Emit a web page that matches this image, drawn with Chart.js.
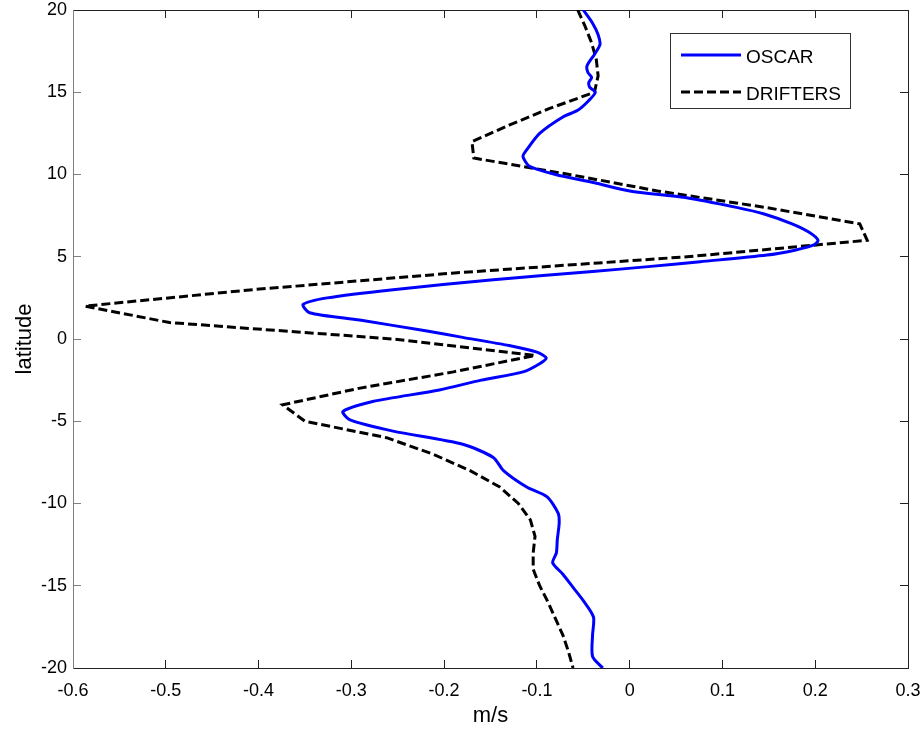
<!DOCTYPE html>
<html>
<head>
<meta charset="utf-8">
<script src="https://cdn.jsdelivr.net/npm/chart.js@4/dist/chart.umd.min.js"></script>
<style>
	html, body { margin: 0; padding: 0; background: #fff; }
	#wrap { width: 923px; height: 730px; }
</style>
</head>
<body>
<div id="wrap"><canvas id="chart" width="923" height="730"></canvas></div>
<script>
const seriesNames = ['OSCAR', 'DRIFTERS'];

// OSCAR
const oscarLat = [20, 19.2, 18.5, 17.9, 17.3, 16.6, 16.2, 15.9, 15.6, 15.3, 15, 14.5, 13.9, 13.5, 12.5, 11.5, 11.1, 10.5, 10, 9.5,
	9, 8.6, 8, 7.6, 7, 6.5, 6, 5.7, 5.4, 5.1, 4.7, 4.4, 4.1, 3.6, 3, 2.5, 2.1, 1.6, 1.15, 0.5,
	0.1, -0.4, -0.8, -1.15, -1.5, -2, -2.5, -3.1, -3.8, -4.4, -4.9, -5.6, -6.4, -7.2, -8, -9, -9.6, -10.6, -11.2, -12.2,
	-13, -13.6, -14.3, -15.1, -15.9, -16.9, -18, -19.3, -20];
const oscarVel = [-0.050, -0.040, -0.034, -0.032, -0.038, -0.046, -0.045, -0.041, -0.044, -0.043, -0.037, -0.044, -0.056, -0.072, -0.097, -0.111, -0.115, -0.108, -0.080, -0.038,
	0.000, 0.060, 0.115, 0.145, 0.175, 0.193, 0.203, 0.198, 0.178, 0.148, 0.076, 0.020, -0.040, -0.147, -0.255, -0.326, -0.352, -0.345, -0.291, -0.220,
	-0.180, -0.130, -0.100, -0.090, -0.097, -0.115, -0.160, -0.205, -0.277, -0.309, -0.302, -0.255, -0.180, -0.147, -0.136, -0.111, -0.089, -0.077, -0.076, -0.078,
	-0.079, -0.083, -0.072, -0.061, -0.050, -0.039, -0.040, -0.040, -0.029];

// DRIFTERS, one value per degree
const driftLat = [20, 19, 18, 17, 16, 15, 14, 13, 12, 11, 10, 9, 8, 7, 6, 5, 4, 3, 2, 1,
	0, -1, -2, -3, -4, -5, -6, -7, -8, -9, -10, -11, -12, -13, -14, -15, -16, -17, -18, -19, -20];
const driftVel = [-0.056, -0.048, -0.041, -0.036, -0.034, -0.038, -0.087, -0.130, -0.170, -0.168, -0.065, 0.030, 0.146, 0.248, 0.256, 0.062, -0.192, -0.406, -0.587, -0.496,
	-0.255, -0.102, -0.190, -0.292, -0.374, -0.350, -0.262, -0.212, -0.172, -0.140, -0.120, -0.107, -0.102, -0.104, -0.104, -0.097, -0.088, -0.080, -0.072, -0.066, -0.061];

const xTickLabels = ['-0.6', '-0.5', '-0.4', '-0.3', '-0.2', '-0.1', '0', '0.1', '0.2', '0.3'];
const yTickLabels = ['-20', '-15', '-10', '-5', '0', '5', '10', '15', '20'];

const toPoints = (lat, vel) => lat.map((y, i) => ({ x: vel[i], y: y }));

const FONT = 'Liberation Sans, Arial, Helvetica, sans-serif';

// fixed axis sizes, no extra room for overhanging labels
const fixSize = (size) => (s) => {
	if (s.isHorizontal()) s.height = size;
	else s.width = size;
	s.paddingLeft = 0;
	s.paddingRight = 0;
	s.paddingTop = 0;
	s.paddingBottom = 0;
};

// legend box in the top right corner
const boxLegend = {
	id: 'boxLegend',
	afterDatasetsDraw(chart) {
		const ctx = chart.ctx;
		const x0 = 670.5, y0 = 33.5, w = 180, h = 75;
		ctx.save();
		ctx.fillStyle = '#fff';
		ctx.fillRect(x0, y0, w, h);
		ctx.strokeStyle = '#333';
		ctx.lineWidth = 1;
		ctx.strokeRect(x0, y0, w, h);
		ctx.font = '19px ' + FONT;
		ctx.textBaseline = 'middle';
		ctx.fillStyle = '#000';
		chart.data.datasets.forEach((ds, i) => {
			const y = 55 + i * 37;
			ctx.beginPath();
			ctx.strokeStyle = ds.borderColor;
			ctx.lineWidth = ds.borderWidth;
			ctx.setLineDash(ds.borderDash || []);
			ctx.moveTo(681, y);
			ctx.lineTo(741, y);
			ctx.stroke();
			ctx.setLineDash([]);
			ctx.fillText(ds.label, 746, y + 3);
		});
		ctx.restore();
	},
};

new Chart(document.getElementById('chart'), {
	type: 'scatter',
	data: {
		datasets: [
			{
				label: seriesNames[0],
				data: toPoints(oscarLat, oscarVel),
				showLine: true,
				borderColor: '#0000ff',
				borderWidth: 3,
				pointRadius: 0,
				tension: 0.25,
			},
			{
				label: seriesNames[1],
				data: toPoints(driftLat, driftVel),
				showLine: true,
				borderColor: '#000000',
				borderWidth: 3,
				borderDash: [9, 4],
				pointRadius: 0,
				tension: 0,
			},
		],
	},
	options: {
		responsive: false,
		animation: false,
		layout: { padding: 0 },
		plugins: {
			legend: { display: false },
			tooltip: { enabled: false },
		},
		scales: {
			x: {
				position: 'bottom',
				min: -0.6,
				max: 0.3,
				afterFit: fixSize(62),
				ticks: {
					stepSize: 0.1,
					maxRotation: 0,
					autoSkip: false,
					padding: 20,
					color: '#000',
					font: { family: FONT, size: 18 },
					callback: (v, i) => xTickLabels[i],
				},
				grid: { drawOnChartArea: false, tickLength: -8, color: '#222' },
				border: { color: '#222', width: 1 },
				title: {
					display: true,
					text: 'm/s',
					color: '#000',
					font: { family: FONT, size: 22 },
					padding: { top: 0, bottom: 1 },
				},
			},
			x2: {
				position: 'top',
				min: -0.6,
				max: 0.3,
				afterFit: fixSize(10),
				ticks: { display: false, stepSize: 0.1 },
				grid: { drawOnChartArea: false, tickLength: -8, color: '#222' },
				border: { color: '#222', width: 1 },
			},
			y: {
				position: 'left',
				min: -20,
				max: 20,
				afterFit: fixSize(73),
				ticks: {
					stepSize: 5,
					padding: 14,
					color: '#000',
					font: { family: FONT, size: 18 },
					callback: (v, i) => yTickLabels[i],
				},
				grid: { drawOnChartArea: false, tickLength: -8, color: '#808080' },
				border: { color: '#808080', width: 1 },
				title: {
					display: true,
					text: 'latitude',
					color: '#000',
					font: { family: FONT, size: 22 },
					padding: { top: 12, bottom: 0 },
				},
			},
			y2: {
				position: 'right',
				min: -20,
				max: 20,
				afterFit: fixSize(15),
				ticks: { display: false, stepSize: 5 },
				grid: { drawOnChartArea: false, tickLength: -8, color: '#222' },
				border: { color: '#222', width: 1 },
			},
		},
	},
	plugins: [boxLegend],
});
</script>
</body>
</html>
